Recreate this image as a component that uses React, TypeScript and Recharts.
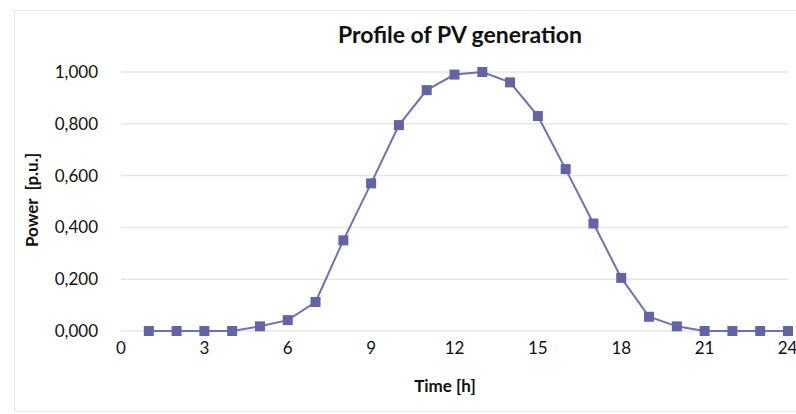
import { LineChart, Line, XAxis, YAxis, CartesianGrid, Label } from 'recharts';

const hours = [1, 2, 3, 4, 5, 6, 7, 8, 9, 10, 11, 12, 13, 14, 15, 16, 17, 18, 19, 20, 21, 22, 23, 24];
const power = [0, 0, 0, 0, 0.018, 0.042, 0.112, 0.35, 0.57, 0.795, 0.93, 0.99, 1.0, 0.96, 0.83, 0.625, 0.415, 0.205, 0.055, 0.018, 0, 0, 0, 0];
const xTicks = [0, 3, 6, 9, 12, 15, 18, 21, 24];
const yTicks = [0, 0.2, 0.4, 0.6, 0.8, 1.0];

const data = hours.map((h, i) => ({ hour: h, power: power[i] }));

const FONT = 'Lato, "Open Sans", sans-serif';
const LINE = '#6f71b0';
const MARK = '#6264a6';

const SquareDot = (props: any) => {
  const { cx, cy, index } = props;
  if (cx == null || cy == null) return null;
  return <rect key={index} x={cx - 5} y={cy - 5} width={10} height={10} fill={MARK} />;
};

export default function App() {
  return (
    <div style={{ position: 'absolute', left: 0, top: 0, width: 796, height: 414, background: '#fff', fontFamily: FONT, overflow: 'hidden' }}>
      <div style={{ position: 'absolute', left: 14, top: 10, width: 800, height: 400, border: '1px solid #e6e6e6' }} />
      <div style={{ position: 'absolute', left: 0, top: 20, width: 920, textAlign: 'center', fontSize: 23, fontWeight: 700, color: '#111' }}>
        Profile of PV generation
      </div>
      <div style={{ position: 'absolute', left: 0, top: 0 }}>
        <LineChart width={796} height={414} data={data} margin={{ top: 72, right: 8, bottom: 0, left: 0 }}>
          <CartesianGrid vertical={false} stroke="#e6e6e6" strokeWidth={1.5} />
          <XAxis
            dataKey="hour"
            type="number"
            domain={[0, 24]}
            ticks={xTicks}
            axisLine={false}
            tickLine={false}
            tickMargin={5}
            tick={{ fontSize: 17, fill: '#111', fontFamily: FONT }}
            height={83}
          >
            <Label
              content={() => (
                <text x={445} y={392} textAnchor="middle" fontSize={17} fontWeight={700} fill="#111" fontFamily={FONT}>
                  Time [h]
                </text>
              )}
            />
          </XAxis>
          <YAxis
            type="number"
            domain={[0, 1]}
            ticks={yTicks}
            axisLine={false}
            tickLine={false}
            tickMargin={17}
            width={121}
            tick={{ fontSize: 17, fill: '#111', fontFamily: FONT }}
            tickFormatter={(v: number) => v.toFixed(3).replace('.', ',')}
          >
            <Label
              content={() => (
                <text
                  x={38}
                  y={200}
                  transform="rotate(-90 38 200)"
                  textAnchor="middle"
                  fontSize={17}
                  fontWeight={700}
                  fill="#111"
                  fontFamily={FONT}
                >
                  {'Power\u00a0\u00a0[p.u.]'}
                </text>
              )}
            />
          </YAxis>
          <Line
            type="linear"
            dataKey="power"
            stroke={LINE}
            strokeWidth={2}
            dot={SquareDot}
            activeDot={false}
            isAnimationActive={false}
          />
        </LineChart>
      </div>
    </div>
  );
}
